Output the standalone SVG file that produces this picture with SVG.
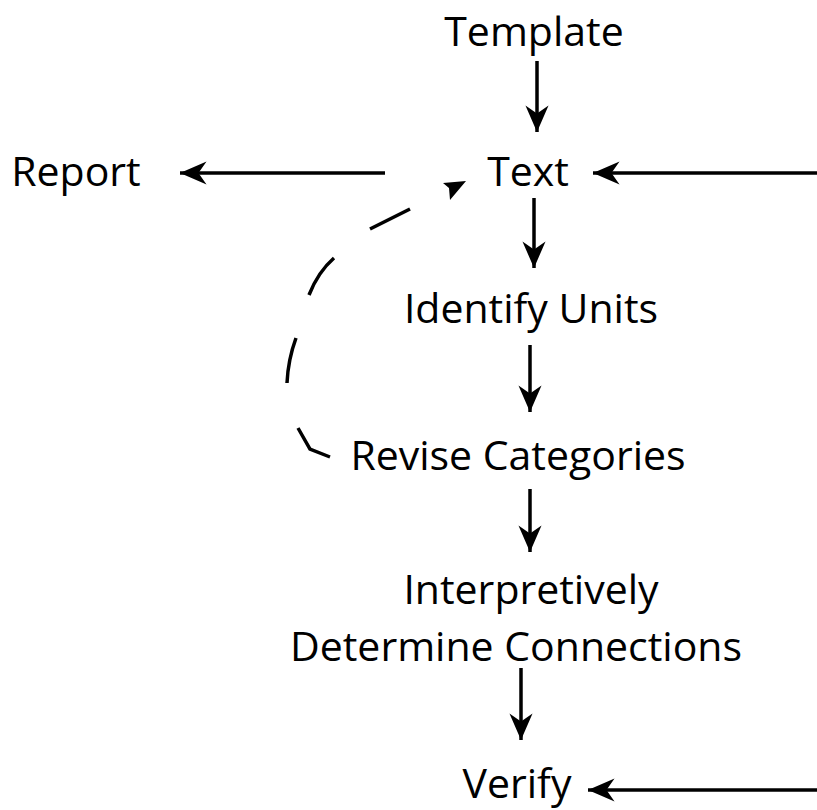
<svg xmlns="http://www.w3.org/2000/svg" width="817" height="810" viewBox="0 0 817 810">
  <style>
    .lbl { font-family: "Open Sans", "Liberation Sans", sans-serif; font-size: 41px; fill: #000; text-anchor: middle; }
    .edge { stroke: #000; stroke-width: 3.5; fill: none; marker-end: url(#arrow); }
    .dash { stroke: #000; stroke-width: 3.5; fill: none; stroke-linecap: butt; }
  </style>
  <defs>
    <marker id="arrow" markerUnits="userSpaceOnUse" markerWidth="30" markerHeight="30" refX="0" refY="0" viewBox="-24 -12 26 24" orient="auto">
      <path d="M0,0 L-23,-10 L-16,0 L-23,10 Z" fill="#000"/>
    </marker>
  </defs>
  <rect width="817" height="810" fill="#fff"/>

  <g id="template"><text class="lbl" x="534" y="46">Template</text></g>
  <g id="text"><text class="lbl" x="528" y="186">Text</text></g>
  <g id="report"><text class="lbl" x="76" y="186">Report</text></g>
  <g id="identify-units"><text class="lbl" x="531" y="323">Identify Units</text></g>
  <g id="revise-categories"><text class="lbl" x="518" y="470">Revise Categories</text></g>
  <g id="interpretively"><text class="lbl" x="531" y="604">Interpretively</text>
    <text class="lbl" x="516" y="661">Determine Connections</text></g>
  <g id="verify"><text class="lbl" x="517" y="798">Verify</text></g>

  <g id="connectors">
    <line class="edge" x1="537" y1="61" x2="537" y2="132"/>
    <line class="edge" x1="385" y1="173" x2="180" y2="173"/>
    <line class="edge" x1="817" y1="173" x2="593" y2="173"/>
    <line class="edge" x1="534" y1="198" x2="534" y2="268"/>
    <line class="edge" x1="530" y1="345" x2="530" y2="412"/>
    <line class="edge" x1="530" y1="489" x2="530" y2="552"/>
    <line class="edge" x1="521" y1="668" x2="521" y2="740"/>
    <line class="edge" x1="817" y1="790" x2="588" y2="790"/>
    <!-- dashed return path from Revise Categories back to Text -->
    <g id="feedback">
      <path class="dash" d="M330,457 L310,449 L298,428"/>
      <path class="dash" d="M287,383 Q288,360 296,338"/>
      <path class="dash" d="M309,295 Q318,272 334,258"/>
      <path class="dash" d="M370,229 L410,209"/>
      <path d="M466,181 L443,183 L449,188 L450,200 Z" fill="#000"/>
    </g>
  </g>
</svg>
